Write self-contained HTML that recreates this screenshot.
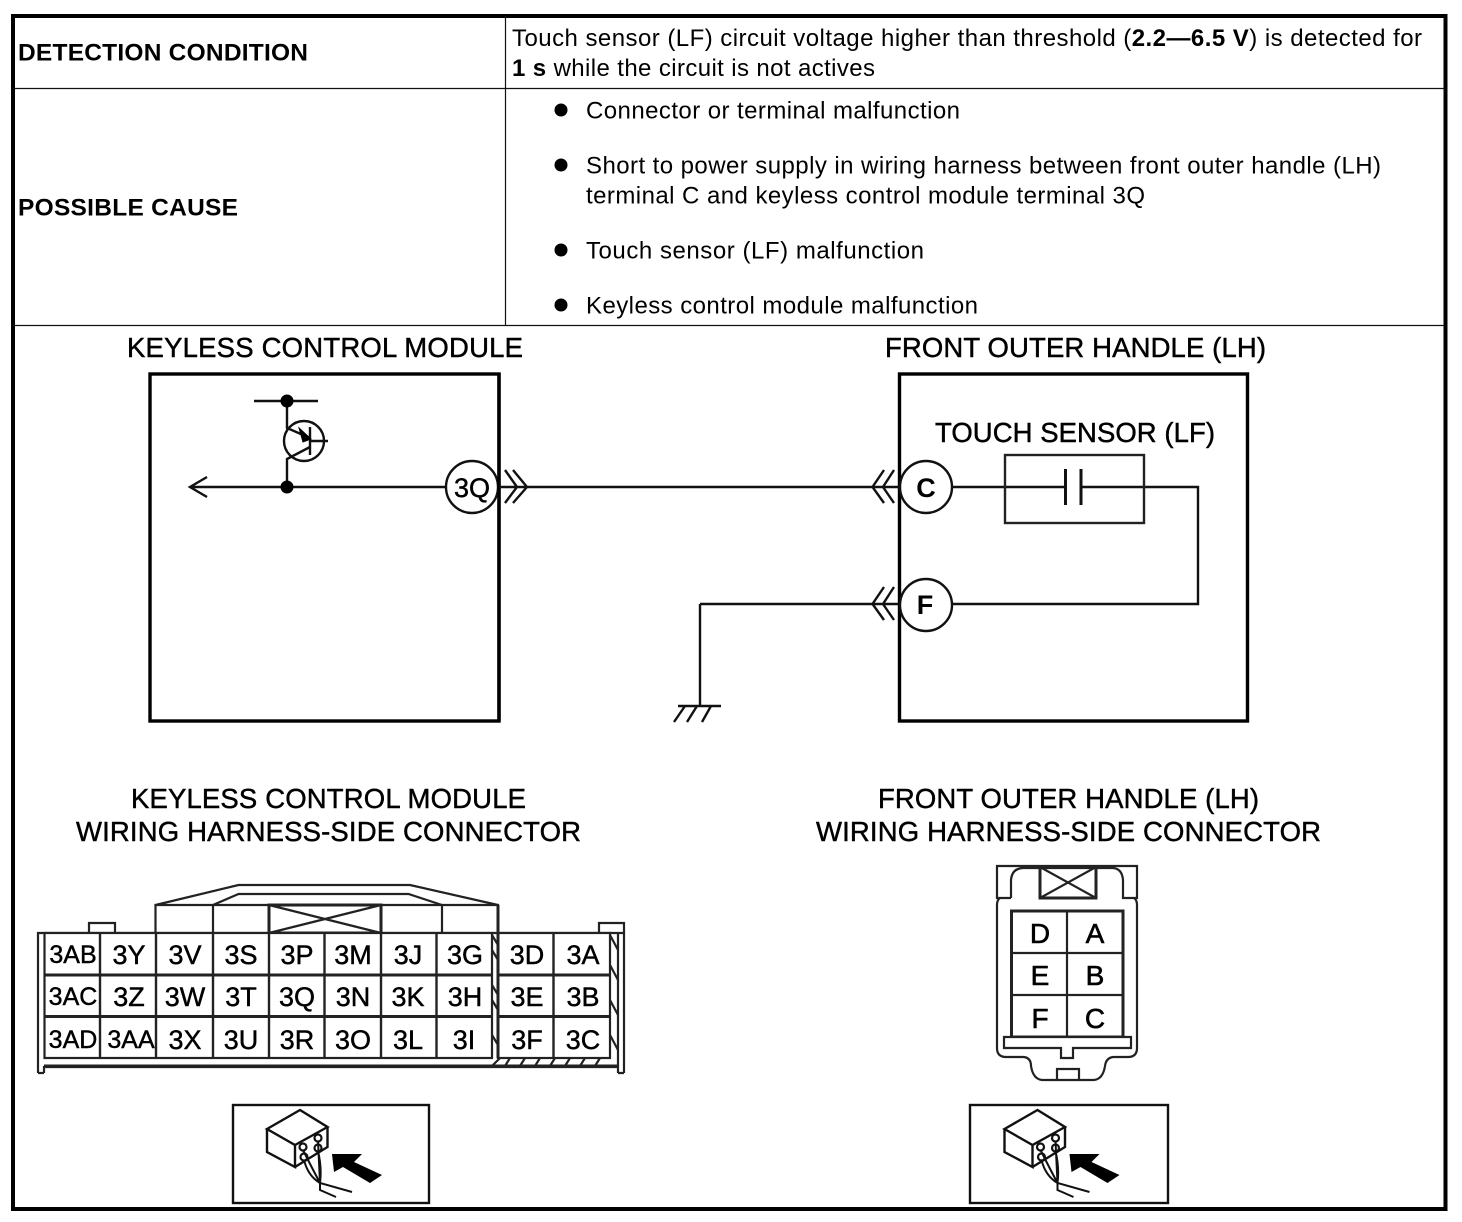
<!DOCTYPE html>
<html><head><meta charset="utf-8"><title>Touch sensor diagram</title>
<style>html,body{margin:0;padding:0;background:#fff}svg{display:block}
text{font-family:"Liberation Sans",Arial,sans-serif;fill:#000}
.b{font-weight:bold}.t{font-size:24px}.h{font-size:27.500px;stroke:#000;stroke-width:.45}
.g{font-size:27px;text-anchor:middle;stroke:#000;stroke-width:.45}
.s{font-size:25px}
.w{fill:none;stroke:#111;stroke-width:2.400}.l{fill:none;stroke:#222;stroke-width:1.800}.k{fill:none;stroke:#000;stroke-width:3.400}</style></head>
<body>
<svg xmlns="http://www.w3.org/2000/svg" width="1462" height="1222" viewBox="0 0 1462 1222">
<defs>
<g id="ic">
<path d="M267 1129 300 1110 327.500 1127 295 1145ZM267 1129V1152L295 1167V1145M295 1167 327.500 1147V1127" fill="#fff" stroke="#111" stroke-width="2.400"/>
<circle cx="303" cy="1147" r="3.500" fill="#fff" stroke="#111" stroke-width="2.200"/><circle cx="318" cy="1138" r="3.500" fill="#fff" stroke="#111" stroke-width="2.200"/><circle cx="304" cy="1157" r="3.500" fill="#fff" stroke="#111" stroke-width="2.200"/><circle cx="318" cy="1148" r="3.500" fill="#fff" stroke="#111" stroke-width="2.200"/>
<path d="M304 1160Q308 1176 320 1183L352 1192M318 1151Q322 1168 320 1183M303 1150Q312 1168 320 1183M320 1183V1190L336 1197M318 1141 320 1183" fill="none" stroke="#111" stroke-width="2"/>
<path d="M332 1154H362L354 1162 382 1175 370 1183 343 1167 334 1172Z" fill="#000"/>
</g>
</defs>
<rect width="1462" height="1222" fill="#fff"/>
<rect x="13" y="16" width="1432.500" height="1193" fill="none" stroke="#000" stroke-width="4"/>
<path d="M13 88.500H1445M13 325.500H1445M505.500 16V325" stroke="#111" stroke-width="1.200" fill="none"/>

<text class="b" x="18" y="60.500" font-size="24.500" textLength="290">DETECTION CONDITION</text>
<text class="b" x="18" y="215.500" font-size="24.500" textLength="220">POSSIBLE CAUSE</text>
<text class="t" x="512" y="46" textLength="910">Touch sensor (LF) circuit voltage higher than threshold (<tspan class="b">2.2—6.5 V</tspan>) is detected for</text>
<text class="t" x="512" y="76" textLength="363"><tspan class="b">1 s</tspan> while the circuit is not actives</text>
<circle cx="561" cy="110" r="6.500"/><circle cx="561" cy="165" r="6.500"/><circle cx="561" cy="250" r="6.500"/><circle cx="561" cy="305" r="6.500"/>
<text class="t" x="586" y="118.500" textLength="374">Connector or terminal malfunction</text>
<text class="t" x="586" y="173.500" textLength="795">Short to power supply in wiring harness between front outer handle (LH)</text>
<text class="t" x="586" y="203.500" textLength="559">terminal C and keyless control module terminal 3Q</text>
<text class="t" x="586" y="258.500" textLength="338">Touch sensor (LF) malfunction</text>
<text class="t" x="586" y="313.500" textLength="392">Keyless control module malfunction</text>

<text class="h" x="127" y="357" textLength="396">KEYLESS CONTROL MODULE</text>
<text class="h" x="885" y="357" textLength="381">FRONT OUTER HANDLE (LH)</text>
<text class="h" x="935" y="442" textLength="280">TOUCH SENSOR (LF)</text>
<text class="h" x="131" y="808" textLength="395">KEYLESS CONTROL MODULE</text>
<text class="h" x="76" y="841" textLength="505">WIRING HARNESS-SIDE CONNECTOR</text>
<text class="h" x="878" y="808" textLength="381">FRONT OUTER HANDLE (LH)</text>
<text class="h" x="816" y="841" textLength="505">WIRING HARNESS-SIDE CONNECTOR</text>

<rect x="150" y="374" width="349" height="347" class="k"/>
<rect x="899.500" y="374" width="348" height="347" class="k"/>

<path class="w" d="M254 401H318M287 401V428L310 438M310 447 287 459V487M190 487H446M207 477 190 487 207 497"/>
<circle cx="287" cy="401" r="6.500"/><circle cx="287" cy="487" r="6.500"/>
<circle cx="304" cy="441" r="20" class="w"/>
<path class="w" d="M310 427V455M310 441H328"/>
<path d="M311 439 299 428 303 442Z" fill="#000" stroke="#000"/>

<circle cx="472" cy="487" r="26" class="w" style="fill:#fff"/>
<path d="M499 373V721" stroke="#000" stroke-width="3.400"/>
<circle cx="926" cy="487" r="26" class="w" style="fill:#fff"/>
<circle cx="926" cy="605" r="26" class="w" style="fill:#fff"/>
<text x="472" y="497" font-size="27" text-anchor="middle" stroke="#000" stroke-width=".45">3Q</text>
<text x="926" y="497" font-size="27" text-anchor="middle" class="b">C</text>
<text x="925" y="614" font-size="27" text-anchor="middle" class="b">F</text>

<path class="w" d="M499 487H900M505 470 517 487 505 503M513 470 527 487 513 503"/>
<path class="w" d="M884 470 872.500 487 884 503M894 470 883 487 894 503M884 587 872.500 604 884 620M894 587 883 604 894 620"/>
<path class="w" d="M952 487H1198V604H952M700 604H900M700 604V706M678 706H721M685 706 674 722M697 706 687 722M711 706 702 722"/>
<rect x="1005" y="455" width="139" height="68" class="l" style="stroke-width:2.400"/>
<rect x="1066" y="470" width="15" height="36" fill="#fff"/>
<path class="w" d="M1065.500 469V505M1081 469V505" style="stroke-width:3"/>

<g fill="none" stroke="#222" stroke-width="2.200">
<path d="M38 1073V933H624V1073M44 1073V1067H618V1073M38 1073H44M618 1073H624M618 933V1067"/>
<path d="M89 933V923H115V933M599 933V923H624V933"/>
<path d="M155.500 933V905H498V933M155.500 905 238.500 885H410L498 905"/>
<path d="M213 933V905L238.500 894H408.500L442 905V933"/>
<rect x="269" y="905" width="112" height="28" stroke-width="3"/>
<path d="M269 905 381 933M381 905 269 933"/>
<rect x="44.500" y="933" width="447.500" height="125" fill="#fff"/>
<rect x="498" y="933" width="112" height="125" fill="#fff"/>
<path d="M44.500 975H492M44.500 1016.500H492M498 975H610M498 1016.500H610" stroke-width="3"/>
<path d="M100 933V1058M156 933V1058M213 933V1058M269 933V1058M324.500 933V1058M381 933V1058M436.500 933V1058M553.500 933V1058" stroke-width="2.400"/>
<path d="M44 1066H618" stroke-width="3"/>
<path d="M498 905V1058" stroke-width="3"/>
<path d="M492 935 498 945M492 950 498 960M492 985 498 995M492 1000 498 1010M492 1035 498 1045M610 935 618 950M610 965 618 980M610 1000 618 1015M610 1035 618 1050M505 1066 510 1058M520 1066 525 1058M535 1066 540 1058M550 1066 555 1058M565 1066 570 1058M580 1066 585 1058M595 1066 600 1058M492 1066 500 1058"/>
</g>
<g class="g">
<text class="s" x="73" y="963">3AB</text><text x="129" y="964">3Y</text><text x="185" y="964">3V</text><text x="241" y="964">3S</text><text x="297" y="964">3P</text><text x="353" y="964">3M</text><text x="408" y="964">3J</text><text x="465" y="964">3G</text><text x="527" y="964">3D</text><text x="583" y="964">3A</text>
<text class="s" x="73" y="1005">3AC</text><text x="129" y="1006">3Z</text><text x="185" y="1006">3W</text><text x="241" y="1006">3T</text><text x="297" y="1006">3Q</text><text x="353" y="1006">3N</text><text x="408" y="1006">3K</text><text x="465" y="1006">3H</text><text x="527" y="1006">3E</text><text x="583" y="1006">3B</text>
<text class="s" x="73" y="1048">3AD</text><text class="s" x="131" y="1048">3AA</text><text x="185" y="1049">3X</text><text x="241" y="1049">3U</text><text x="297" y="1049">3R</text><text x="353" y="1049">3O</text><text x="408" y="1049">3L</text><text x="464" y="1049">3I</text><text x="527" y="1049">3F</text><text x="583" y="1049">3C</text>
</g>

<rect x="233" y="1105" width="196" height="98" fill="#fff" stroke="#111" stroke-width="2.400"/>
<rect x="970" y="1105" width="198" height="98" fill="#fff" stroke="#111" stroke-width="2.400"/>
<use href="#ic"/>
<use href="#ic" x="737.500"/>

<g fill="none" stroke="#222" stroke-width="2.200">
<path d="M1011 898H997V866H1137V898H1123V880Q1122 868 1112 868H1024Q1012 868 1011 880V898"/>
<path d="M1000 898Q997 900 997 905V1048Q997 1057 1006 1057H1024Q1031 1058 1031 1066 1033 1079 1042 1080H1094Q1103 1079 1105 1066 1106 1058 1113 1057H1128Q1137 1057 1137 1048V905Q1137 900 1134 898"/>
<rect x="1011.500" y="911" width="111.500" height="126" stroke-width="3"/>
<path d="M1011.500 953H1123M1011.500 995H1123M1067 911V1037"/>
<path d="M1004 1037H1131V1048H1073V1058H1061V1048H1004Z" fill="#fff"/>
<rect x="1040" y="867" width="56" height="31" stroke-width="3"/>
<path d="M1040 867 1096 898M1096 867 1040 898"/>
<path d="M1057 1079V1069H1079V1079"/>
</g>
<g class="g" style="font-size:28px;stroke-width:.6">
<text x="1040" y="943">D</text><text x="1095" y="943">A</text>
<text x="1040" y="985">E</text><text x="1095" y="985">B</text>
<text x="1040" y="1028">F</text><text x="1095" y="1028">C</text>
</g>
</svg>
</body></html>
